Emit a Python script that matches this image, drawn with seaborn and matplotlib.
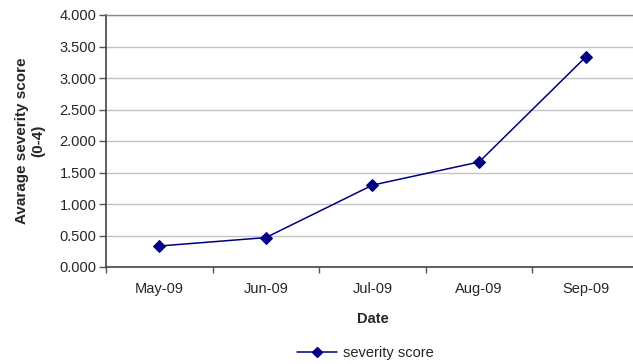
import matplotlib
matplotlib.use("Agg")
import matplotlib.pyplot as plt
import seaborn as sns
import pandas as pd
import numpy as np

months = ["May-09", "Jun-09", "Jul-09", "Aug-09", "Sep-09"]
severity = [0.333, 0.467, 1.300, 1.667, 3.333]
y_ticks = [0.0, 0.5, 1.0, 1.5, 2.0, 2.5, 3.0, 3.5, 4.0]

sns.set_theme(style="white")
plt.rcParams["font.family"] = ["Liberation Sans", "DejaVu Sans"]

df = pd.DataFrame({"pos": np.arange(len(months)), "score": severity, "series": "severity score"})

W, H = 633, 364
fig = plt.figure(figsize=(W / 100, H / 100), dpi=100)
# plot area runs slightly past the right edge of the canvas
left, right, top, bottom = 106, 639, 15, 267
ax = fig.add_axes([left / W, 1 - bottom / H, (right - left) / W, (bottom - top) / H])

navy = "#000080"
sns.lineplot(data=df, x="pos", y="score", ax=ax, color=navy, marker="D",
             markersize=6, markeredgecolor=navy, linewidth=1.1, legend=False)

fs = 10.5
ax.set_xlim(-0.5, len(months) - 0.5)
ax.set_ylim(0, 4)
ax.set_yticks(y_ticks)
ax.set_yticklabels([f"{v:.3f}" for v in y_ticks], fontsize=fs)
ax.yaxis.grid(True, color="#c4c4c4", linewidth=1)
ax.set_axisbelow(True)

ax.set_xticks(np.arange(len(months) + 1) - 0.5)
ax.set_xticklabels([])
ax.set_xticks(np.arange(len(months)), minor=True)
ax.set_xticklabels(months, minor=True, fontsize=fs)
ax.tick_params(axis="x", which="minor", length=0, pad=11)
ax.tick_params(axis="x", which="major", length=4, width=1, color="#555555", direction="out")
ax.tick_params(axis="y", length=5, width=1, color="#555555", direction="out", pad=2)
ax.xaxis.set_ticks_position("bottom")
ax.yaxis.set_ticks_position("left")

for s in ["left", "bottom"]:
    ax.spines[s].set_color("#444444")
    ax.spines[s].set_linewidth(1.2)
ax.spines["top"].set_color("#888888")
ax.spines["top"].set_linewidth(1)
ax.spines["right"].set_visible(False)

ax.set_xlabel("Date", fontsize=10.5, fontweight="bold", labelpad=11.5)
ax.set_ylabel("Avarage severity score\n(0-4)", fontsize=11, fontweight="bold", labelpad=10)

handle = plt.Line2D([], [], color=navy, marker="D", markersize=5, linewidth=1.1)
fig.legend([handle], ["severity score"], loc="center", bbox_to_anchor=(365 / W, 1 - 353 / H),
           frameon=False, fontsize=fs, handlelength=2.8, handletextpad=0.35)

fig.savefig("out.png", dpi=100)
